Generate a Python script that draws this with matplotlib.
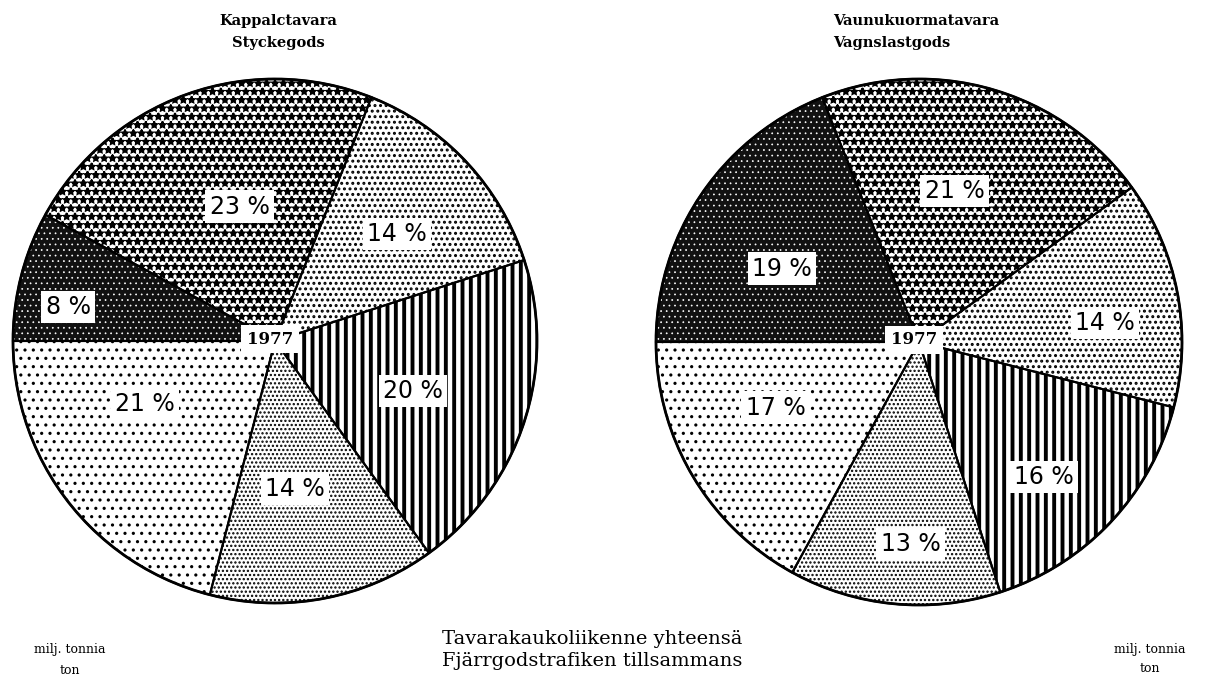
import numpy as np
import matplotlib
matplotlib.use('Agg')
import matplotlib.pyplot as plt
from matplotlib.patches import Circle

W, H = 1209, 682

# shares in percent, clockwise from 9 o'clock
left_values = [8, 23, 14, 20, 14, 21]
right_values = [19, 21, 14, 16, 13, 17]

left_title = 'Kappalctavara\nStyckegods'
right_title = 'Vaunukuormatavara\nVagnslastgods'
year = '1977'
bottom_title = 'Tavarakaukoliikenne yhteensä\nFjärrgodstrafiken tillsammans'
unit_label = 'milj. tonnia\nton'

# fill per category (same order in both pies): face, hatch, hatch colour, hatch width
fills = [
    ('#111111', '...', 'white', 0.5),
    ('white', '**', 'black', 1.4),
    ('white', '...', 'black', 1.4),
    ('white', '||', 'black', 2.8),
    ('white', '....', 'black', 1.1),
    ('white', '..', 'black', 1.1),
]

# label placement: (fraction of radius, angle shift in degrees)
left_lab = [(0.80, 5), (0.53, -5), (0.62, -2), (0.56, -2), (0.57, -3), (0.55, -12)]
right_lab = [(0.59, 6), (0.59, 3), (0.71, -5), (0.70, -4), (0.77, 3), (0.60, -6)]

pct_font = dict(family='DejaVu Sans', size=17)
serif = 'DejaVu Serif'


def draw_pie(ax, values, cx, cy, r, lab):
    cy = H - cy
    wedges, _ = ax.pie(values, center=(cx, cy), radius=r, startangle=180,
                       counterclock=False, frame=True,
                       wedgeprops=dict(linewidth=0))
    for w, (fc, hatch, hc, hlw) in zip(wedges, fills):
        w.set_facecolor(fc)
        w.set_edgecolor(hc)
        w.set_hatch(hatch)
        w.set_hatch_linewidth(hlw)
    ax.pie(values, center=(cx, cy), radius=r, startangle=180,
           counterclock=False, frame=True,
           wedgeprops=dict(fill=False, edgecolor='black', linewidth=1.5))
    ax.add_patch(Circle((cx, cy), r, fill=False, edgecolor='black', linewidth=2.0))
    for w, v, (f, shift) in zip(wedges, values, lab):
        a = np.deg2rad((w.theta1 + w.theta2) / 2 + shift)
        ax.text(cx + f * r * np.cos(a), cy + f * r * np.sin(a), f'{v} %',
                ha='center', va='center', fontdict=pct_font,
                bbox=dict(facecolor='white', edgecolor='none', pad=3))
    ax.text(cx - 5, cy + 2, year, ha='center', va='center', family=serif,
            weight='bold', size=12,
            bbox=dict(facecolor='white', edgecolor='none', pad=4))


fig = plt.figure(figsize=(W / 100, H / 100), dpi=100)
ax = fig.add_axes([0, 0, 1, 1])

draw_pie(ax, left_values, 275, 341, 262, left_lab)
draw_pie(ax, right_values, 919, 342, 263, right_lab)

ax.set_xlim(0, W)
ax.set_ylim(0, H)
ax.set_aspect('equal', adjustable='box')
ax.axis('off')

ax.text(278, H - 32, left_title, ha='center', va='center', family=serif,
        size=10.5, weight='semibold', linespacing=1.7)
ax.text(833, H - 32, right_title, ha='left', va='center', family=serif,
        size=10.5, weight='semibold', linespacing=1.7)
ax.text(592, H - 650, bottom_title, ha='center', va='center',
        family=serif, size=14, linespacing=1.3)
ax.text(70, H - 660, unit_label, ha='center', va='center',
        family=serif, size=9, linespacing=1.7)
ax.text(1150, H - 659, unit_label, ha='center', va='center',
        family=serif, size=9, linespacing=1.7)

fig.savefig('out.png', dpi=100)
